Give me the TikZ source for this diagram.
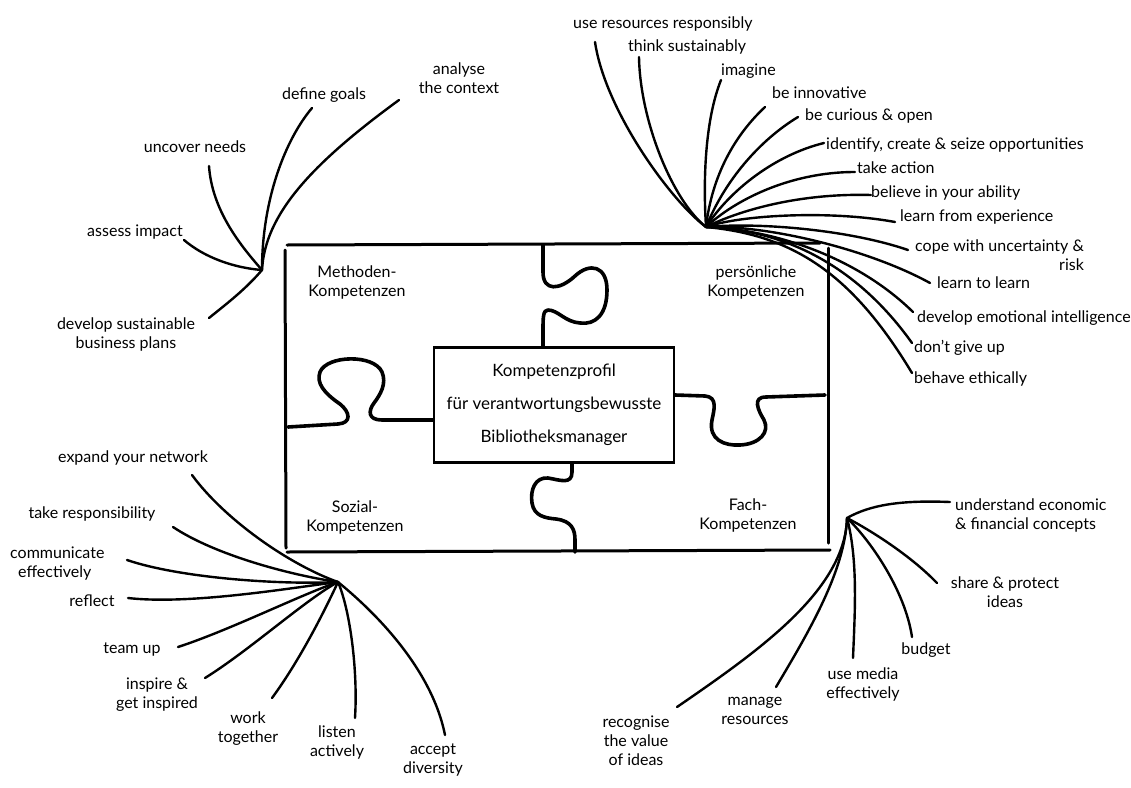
\documentclass[tikz,border=0pt]{standalone}
\usepackage{fontspec}
\setmainfont{Lato}
\begin{document}
\begin{tikzpicture}[x=1pt,y=-1pt,
  lbl/.style={font=\fontsize{16}{19}\selectfont, inner sep=0pt, align=center},
  fan/.style={line width=2.4pt, line cap=round},
  frame/.style={line width=3pt, line cap=round},
  piece/.style={line width=3.6pt, line cap=round, line join=round}]
\useasboundingbox (0,0) rectangle (1131,787);
\fill[white] (0,0) rectangle (1131,787);

% ---- frame ----
\draw[frame] (287,245) -- (820,243);
\draw[frame] (828,248) -- (828,543);
\draw[frame] (285,250) -- (286,548);
\draw[frame] (287,552) -- (830,550);

% ---- centre ----
\node[draw, line width=2.6pt, minimum width=240, minimum height=115, inner sep=0pt,
      font=\fontsize{17}{33}\selectfont, align=center] (core) at (554,405)
  {Kompetenzprofil\\für verantwortungsbewusste\\Bibliotheksmanager};

% ---- puzzle joints ----
\draw[piece] (543,245) -- (543,272) .. controls (543,292) and (560,290) .. (575,276)
  .. controls (590,262) and (607,266) .. (607,290) .. controls (607,315) and (595,325) .. (580,323)
  .. controls (565,322) and (558,310) .. (548,310) .. controls (543,310) and (543,318) .. (543,330) -- (543,347);
\draw[piece] (288,427) -- (338,424) .. controls (352,423) and (350,412) .. (340,404)
  .. controls (324,393) and (316,383) .. (320,372) .. controls (327,355) and (374,354) .. (382,372)
  .. controls (387,384) and (380,395) .. (374,403) .. controls (368,411) and (368,420) .. (382,420) -- (433,420);
\draw[piece] (675,395) -- (705,396) .. controls (718,397) and (714,410) .. (712,420)
  .. controls (708,440) and (725,446) .. (740,445) .. controls (760,444) and (770,432) .. (764,420)
  .. controls (758,410) and (752,397) .. (766,397) -- (825,395);
\draw[piece] (572,463) -- (572,472) .. controls (572,485) and (560,480) .. (548,478)
  .. controls (535,477) and (530,490) .. (532,503) .. controls (534,516) and (545,518) .. (556,519)
  .. controls (572,521) and (575,530) .. (575,540) -- (575,552);

% ---- quadrant titles ----
\node[lbl] (meth) at (357,282) {Methoden-\\Kompetenzen};
\node[lbl] (pers) at (756,282) {persönliche\\Kompetenzen};
\node[lbl] (soz)  at (355,517) {Sozial-\\Kompetenzen};
\node[lbl] (fach) at (748,515) {Fach-\\Kompetenzen};

% ---- Methodenkompetenzen ----
\coordinate (M) at (262,270);
\node[lbl] (m1) at (459,78) {analyse\\the context};
\node[lbl] (m2) at (324,95) {define goals};
\node[lbl] (m3) at (195,147) {uncover needs};
\node[lbl] (m4) at (135,232) {assess impact};
\node[lbl] (m5) at (126,334) {develop sustainable\\business plans};
\coordinate (m1e) at (399,100);
\coordinate (m2e) at (312,108);
\coordinate (m3e) at (209,166);
\coordinate (m4e) at (184,240);
\coordinate (m5e) at (209,318);
\draw[fan] (M) .. controls (265,215) and (310,165) .. (m1e);
\draw[fan] (M) .. controls (262,200) and (285,140) .. (m2e);
\draw[fan] (M) .. controls (240,245) and (212,210) .. (m3e);
\draw[fan] (M) .. controls (235,268) and (205,258) .. (m4e);
\draw[fan] (M) .. controls (245,290) and (225,305) .. (m5e);

% ---- persoenliche Kompetenzen ----
\coordinate (P) at (706,227);
\node[lbl, anchor=west] (p1) at (573,24) {use resources responsibly};
\node[lbl, anchor=west] (p2) at (628,47) {think sustainably};
\node[lbl, anchor=west] (p3) at (721,71) {imagine};
\node[lbl, anchor=west] (p4) at (772,93) {be innovative};
\node[lbl, anchor=west] (p5) at (805,116) {be curious \& open};
\node[lbl, anchor=west] (p6) at (826,145) {identify, create \& seize opportunities};
\node[lbl, anchor=west] (p7) at (857,168) {take action};
\node[lbl, anchor=west] (p8) at (871,193) {believe in your ability};
\node[lbl, anchor=west] (p9) at (900,217) {learn from experience};
\node[lbl, anchor=north west, align=right] (p10) at (915,240) {cope with uncertainty \&\\risk};
\node[lbl, anchor=west] (p11) at (937,283) {learn to learn};
\node[lbl, anchor=west] (p12) at (917,318) {develop emotional intelligence};
\node[lbl, anchor=west] (p13) at (914,348) {don’t give up};
\node[lbl, anchor=west] (p14) at (914,379) {behave ethically};
\coordinate (p1e) at (595,42);
\coordinate (p2e) at (639,57);
\coordinate (p3e) at (721,80);
\coordinate (p4e) at (765,107);
\coordinate (p5e) at (798,117);
\coordinate (p6e) at (824,143);
\coordinate (p7e) at (855,172);
\coordinate (p8e) at (871,195);
\coordinate (p9e) at (895,222);
\coordinate (p10e) at (908,250);
\coordinate (p11e) at (930,283);
\coordinate (p12e) at (913,312);
\coordinate (p13e) at (912,343);
\coordinate (p14e) at (912,373);
\draw[fan] (P) .. controls (670,200) and (605,110) .. (p1e);
\draw[fan] (P) .. controls (672,200) and (640,120) .. (p2e);
\draw[fan] (P) .. controls (703,180) and (705,120) .. (p3e);
\draw[fan] (P) .. controls (712,175) and (735,135) .. (p4e);
\draw[fan] (P) .. controls (725,180) and (760,140) .. (p5e);
\draw[fan] (P) .. controls (730,190) and (775,155) .. (p6e);
\draw[fan] (P) .. controls (735,200) and (790,172) .. (p7e);
\draw[fan] (P) .. controls (740,210) and (800,193) .. (p8e);
\draw[fan] (P) .. controls (740,215) and (830,210) .. (p9e);
\draw[fan] (P) .. controls (760,222) and (850,230) .. (p10e);
\draw[fan] (P) .. controls (770,225) and (870,250) .. (p11e);
\draw[fan] (P) .. controls (780,230) and (860,260) .. (p12e);
\draw[fan] (P) .. controls (790,230) and (860,270) .. (p13e);
\draw[fan] (P) .. controls (790,235) and (850,270) .. (p14e);

% ---- Sozialkompetenzen ----
\coordinate (S) at (338,582);
\node[lbl] (s1) at (133,458) {expand your network};
\node[lbl] (s2) at (92,514) {take responsibility};
\node[lbl, anchor=west, align=left] (s3) at (10,564) {communicate\\\hspace*{8pt}effectively};
\node[lbl] (s4) at (92,601) {reflect};
\node[lbl] (s5) at (132,649) {team up};
\node[lbl] (s6) at (157,695) {inspire \&\\get inspired};
\node[lbl] (s7) at (248,729) {work\\together};
\node[lbl] (s8) at (337,742) {listen\\actively};
\node[lbl] (s9) at (433,760) {accept\\diversity};
\coordinate (s1e) at (192,475);
\coordinate (s2e) at (173,527);
\coordinate (s3e) at (127,560);
\coordinate (s4e) at (128,598);
\coordinate (s5e) at (178,647);
\coordinate (s6e) at (205,678);
\coordinate (s7e) at (272,698);
\coordinate (s8e) at (355,718);
\coordinate (s9e) at (445,735);
\draw[fan] (S) .. controls (290,565) and (225,520) .. (s1e);
\draw[fan] (S) .. controls (290,575) and (215,555) .. (s2e);
\draw[fan] (S) .. controls (280,585) and (180,578) .. (s3e);
\draw[fan] (S) .. controls (290,588) and (190,605) .. (s4e);
\draw[fan] (S) .. controls (300,595) and (230,630) .. (s5e);
\draw[fan] (S) .. controls (305,600) and (250,650) .. (s6e);
\draw[fan] (S) .. controls (325,610) and (300,660) .. (s7e);
\draw[fan] (S) .. controls (350,610) and (358,670) .. (s8e);
\draw[fan] (S) .. controls (360,600) and (430,660) .. (s9e);

% ---- Fachkompetenzen ----
\coordinate (F) at (847,518);
\node[lbl, anchor=west, align=left] (f1) at (955,515) {understand economic\\\& financial concepts};
\node[lbl] (f2) at (1005,592) {share \& protect\\ideas};
\node[lbl] (f3) at (926,650) {budget};
\node[lbl] (f4) at (863,684) {use media\\effectively};
\node[lbl] (f5) at (755,711) {manage\\resources};
\node[lbl] (f6) at (636,741) {recognise\\the value\\of ideas};
\coordinate (f1e) at (950,502);
\coordinate (f2e) at (937,583);
\coordinate (f3e) at (912,637);
\coordinate (f4e) at (853,658);
\coordinate (f5e) at (776,687);
\coordinate (f6e) at (677,707);
\draw[fan] (F) .. controls (870,505) and (900,500) .. (f1e);
\draw[fan] (F) .. controls (870,530) and (910,555) .. (f2e);
\draw[fan] (F) .. controls (870,540) and (905,590) .. (f3e);
\draw[fan] (F) .. controls (858,560) and (855,610) .. (f4e);
\draw[fan] (F) .. controls (845,570) and (810,630) .. (f5e);
\draw[fan] (F) .. controls (845,590) and (760,650) .. (f6e);
\end{tikzpicture}
\end{document}
